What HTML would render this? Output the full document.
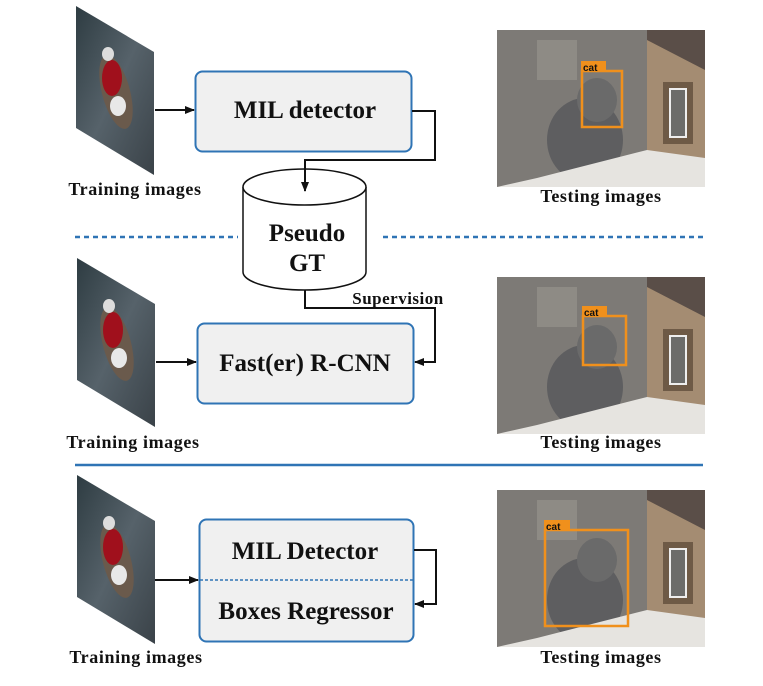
<!DOCTYPE html>
<html><head><meta charset="utf-8"><style>
html,body{margin:0;padding:0;background:#fff;}
svg{display:block;}
text{font-family:"Liberation Serif",serif;font-weight:bold;fill:#111;}
.lbl{font-size:18px;letter-spacing:0.6px;}
.box{font-size:25px;}
</style></head><body>
<svg width="763" height="686" viewBox="0 0 763 686" xmlns="http://www.w3.org/2000/svg">
<defs>
<marker id="ah" markerWidth="10" markerHeight="8" refX="9" refY="4" orient="auto" markerUnits="userSpaceOnUse">
<path d="M0,0 L10,4 L0,8 Z" fill="#111"/>
</marker>
<linearGradient id="tg" x1="0" y1="0" x2="1" y2="1">
<stop offset="0" stop-color="#2e3c42"/><stop offset="0.5" stop-color="#56626a"/><stop offset="1" stop-color="#3a4248"/>
</linearGradient>
<g id="train">
<polygon points="0,0 78,46 78,169 0,122" fill="url(#tg)"/>
<ellipse cx="40" cy="86" rx="14" ry="38" fill="#6a5a4c" transform="rotate(-15 40 86)"/>
<ellipse cx="36" cy="72" rx="10" ry="18" fill="#a0101c"/>
<ellipse cx="42" cy="100" rx="8" ry="10" fill="#e8e8e8"/>
<ellipse cx="32" cy="48" rx="6" ry="7" fill="#ddd"/>
</g>
<g id="test">
<rect x="0" y="0" width="208" height="157" fill="#8e8a84"/>
<rect x="0" y="0" width="150" height="157" fill="#7d7a76"/>
<rect x="150" y="0" width="58" height="157" fill="#a48c72"/>
<polygon points="150,0 208,0 208,40 150,10" fill="#5a4e48"/>
<rect x="166" y="52" width="30" height="62" fill="#6e5a46"/>
<rect x="172" y="58" width="18" height="50" fill="#eee"/>
<rect x="174" y="60" width="14" height="46" fill="#6c6c6a"/>
<rect x="40" y="10" width="40" height="40" fill="#9a9690" opacity="0.6"/>
<ellipse cx="88" cy="110" rx="38" ry="42" fill="#5e5e60"/>
<ellipse cx="100" cy="70" rx="20" ry="22" fill="#6a6a6a"/>
<polygon points="0,157 40,148 150,120 208,128 208,157" fill="#e6e4e0"/>
</g>
</defs>

<!-- Row 1 -->
<use href="#train" x="76" y="6"/>
<text x="135" y="195" class="lbl" text-anchor="middle">Training images</text>
<rect x="195.5" y="71.5" width="216" height="80" rx="7" fill="#f0f0f0" stroke="#2f74b5" stroke-width="2"/>
<text x="305" y="118" class="box" text-anchor="middle">MIL detector</text>
<line x1="155" y1="110" x2="194" y2="110" stroke="#111" stroke-width="2" marker-end="url(#ah)"/>
<polyline points="412,111 435,111 435,160 305,160 305,172" fill="none" stroke="#111" stroke-width="2"/>

<!-- cylinder -->
<path d="M243,187 L243,272 A61.5,18 0 0 0 366,272 L366,187" fill="#fff" stroke="#111" stroke-width="1.5"/>
<ellipse cx="304.5" cy="187" rx="61.5" ry="18" fill="#fff" stroke="#111" stroke-width="1.5"/>
<line x1="305" y1="168" x2="305" y2="191" stroke="#111" stroke-width="2" marker-end="url(#ah)"/>
<text x="307" y="241" class="box" text-anchor="middle">Pseudo</text>
<text x="307" y="271" class="box" text-anchor="middle">GT</text>

<line x1="75" y1="237" x2="238" y2="237" stroke="#2f74b5" stroke-width="2.5" stroke-dasharray="5,4"/>
<line x1="383" y1="237" x2="705" y2="237" stroke="#2f74b5" stroke-width="2.5" stroke-dasharray="5,4"/>

<use href="#test" x="497" y="30"/>
<rect x="582" y="71" width="40" height="56" fill="none" stroke="#f0901c" stroke-width="2.5"/>
<rect x="581" y="61" width="25" height="11" fill="#f0901c"/>
<text x="583" y="71" font-size="10" style="font-family:'Liberation Sans',sans-serif">cat</text>
<text x="601" y="202" class="lbl" text-anchor="middle">Testing images</text>

<!-- Row 2 -->
<use href="#train" x="77" y="258"/>
<text x="133" y="448" class="lbl" text-anchor="middle">Training images</text>
<rect x="197.5" y="323.5" width="216" height="80" rx="7" fill="#f0f0f0" stroke="#2f74b5" stroke-width="2"/>
<text x="305" y="371" class="box" text-anchor="middle">Fast(er) R-CNN</text>
<line x1="156" y1="362" x2="196" y2="362" stroke="#111" stroke-width="2" marker-end="url(#ah)"/>
<polyline points="305,290 305,308 435,308 435,362 415,362" fill="none" stroke="#111" stroke-width="2" marker-end="url(#ah)"/>
<text x="398" y="304" font-size="17" letter-spacing="0.5" text-anchor="middle">Supervision</text>

<use href="#test" x="497" y="277"/>
<rect x="583" y="316" width="43" height="49" fill="none" stroke="#f0901c" stroke-width="2.5"/>
<rect x="582" y="306" width="25" height="11" fill="#f0901c"/>
<text x="584" y="316" font-size="10" style="font-family:'Liberation Sans',sans-serif">cat</text>
<text x="601" y="448" class="lbl" text-anchor="middle">Testing images</text>

<line x1="75" y1="465" x2="703" y2="465" stroke="#2f74b5" stroke-width="2.5"/>

<!-- Row 3 -->
<use href="#train" x="77" y="475"/>
<text x="136" y="663" class="lbl" text-anchor="middle">Training images</text>
<rect x="199.5" y="519.5" width="214" height="122" rx="7" fill="#f0f0f0" stroke="#2f74b5" stroke-width="2"/>
<line x1="200" y1="580" x2="413" y2="580" stroke="#2f74b5" stroke-width="1.5" stroke-dasharray="3,2"/>
<text x="305" y="559" class="box" text-anchor="middle">MIL Detector</text>
<text x="306" y="619" class="box" text-anchor="middle">Boxes Regressor</text>
<line x1="155" y1="580" x2="198" y2="580" stroke="#111" stroke-width="2" marker-end="url(#ah)"/>
<polyline points="414,550 436,550 436,604 415,604" fill="none" stroke="#111" stroke-width="2" marker-end="url(#ah)"/>

<use href="#test" x="497" y="490"/>
<rect x="545" y="530" width="83" height="96" fill="none" stroke="#f0901c" stroke-width="2.5"/>
<rect x="544" y="520" width="26" height="11" fill="#f0901c"/>
<text x="546" y="530" font-size="10" style="font-family:'Liberation Sans',sans-serif">cat</text>
<text x="601" y="663" class="lbl" text-anchor="middle">Testing images</text>
</svg>
</body></html>
